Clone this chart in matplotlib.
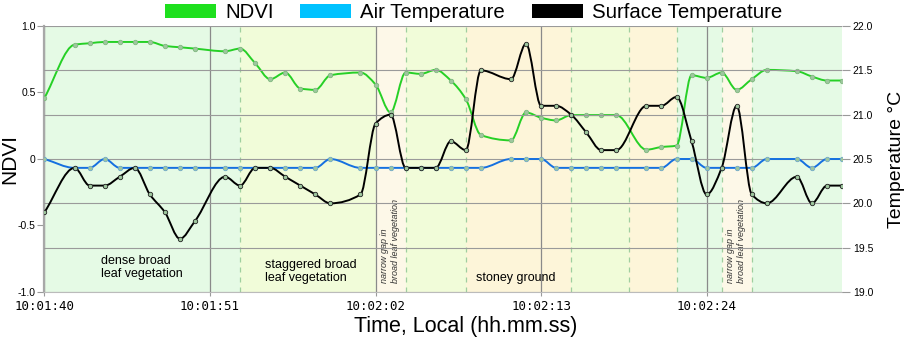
import matplotlib

matplotlib.use("Agg")
import matplotlib.pyplot as plt
import numpy as np
from matplotlib.patches import Patch, PathPatch
from matplotlib.path import Path
from matplotlib.ticker import FuncFormatter, MultipleLocator


# seconds after 10:01:40 at which a sample was logged
seconds = [0, 2, 3, 4, 5, 6, 7, 8, 9, 10,
           12, 13, 14, 15, 16, 17, 18, 19,
           21, 22, 23, 24, 25, 26, 27, 28, 29,
           31, 32, 33, 34, 35, 36, 37, 38,
           40, 41, 42, 43, 44, 45, 46, 47, 48,
           50, 51, 52, 53]

ndvi = [0.46, 0.86, 0.87, 0.88, 0.88, 0.88, 0.88, 0.85, 0.84, 0.83,
        0.81, 0.83, 0.72, 0.60, 0.65, 0.53, 0.52, 0.63,
        0.65, 0.56, 0.35, 0.65, 0.64, 0.67, 0.59, 0.45, 0.18,
        0.14, 0.35, 0.31, 0.29, 0.33, 0.33, 0.33, 0.33,
        0.07, 0.09, 0.10, 0.63, 0.61, 0.65, 0.52, 0.60, 0.67,
        0.66, 0.62, 0.59, 0.59]

air_temp = [20.5, 20.4, 20.4, 20.5, 20.4, 20.4, 20.4, 20.4, 20.4, 20.4,
            20.4, 20.4, 20.4, 20.4, 20.4, 20.4, 20.4, 20.5,
            20.4, 20.4, 20.4, 20.4, 20.4, 20.4, 20.4, 20.4, 20.4,
            20.5, 20.5, 20.5, 20.4, 20.4, 20.4, 20.4, 20.4,
            20.4, 20.4, 20.5, 20.5, 20.4, 20.4, 20.4, 20.4, 20.5,
            20.5, 20.4, 20.5, 20.5]

surface_temp = [19.9, 20.4, 20.2, 20.2, 20.3, 20.4, 20.1, 19.9, 19.6, 19.8,
                20.3, 20.2, 20.4, 20.4, 20.3, 20.2, 20.1, 20.0,
                20.1, 20.9, 21.0, 20.4, 20.4, 20.4, 20.7, 20.6, 21.5,
                21.4, 21.8, 21.1, 21.1, 21.0, 20.8, 20.6, 20.6,
                21.1, 21.1, 21.2, 20.7, 20.1, 20.4, 21.1, 20.1, 20.0,
                20.3, 20.0, 20.2, 20.2]

# ground cover segments along the transect
segment_edges = [0, 13, 22, 24, 28, 35, 38.85, 42, 45, 47, 53]
segment_kinds = ["dense", "staggered", "gap", "staggered", "stoney",
                 "staggered", "stoney", "dense", "gap", "dense"]

START_SECONDS = 10 * 3600 + 1 * 60 + 40

SEGMENT_COLORS = {
    "dense": "#e5fae5",
    "staggered": "#f1fcd9",
    "gap": "#fdf8e8",
    "stoney": "#fdf5d9",
}
NDVI_COLOR = "#26d026"
AIR_COLOR = "#1570e0"
SURFACE_COLOR = "#000000"
MARKER_FILL = "#9ec79e"
GRID_COLOR = "#9a9a9a"

LABEL_FONT = ["Liberation Sans", "DejaVu Sans"]


def monotone_path(x_values, y_values):
    # monotone cubic (Fritsch-Carlson) curve through the samples, as bezier segments
    x = np.asarray(x_values, dtype=float)
    y = np.asarray(y_values, dtype=float)
    h = np.diff(x)
    d = np.diff(y) / h
    m = np.zeros_like(x)
    m[0] = d[0]
    m[-1] = d[-1]
    for k in range(1, len(x) - 1):
        if d[k - 1] * d[k] <= 0:
            m[k] = 0.0
        else:
            w1 = 2 * h[k] + h[k - 1]
            w2 = h[k] + 2 * h[k - 1]
            m[k] = (w1 + w2) / (w1 / d[k - 1] + w2 / d[k])

    vertices = [(x[0], y[0])]
    codes = [Path.MOVETO]
    for k in range(len(x) - 1):
        step = h[k] / 3.0
        vertices += [
            (x[k] + step, y[k] + m[k] * step),
            (x[k + 1] - step, y[k + 1] - m[k + 1] * step),
            (x[k + 1], y[k + 1]),
        ]
        codes += [Path.CURVE4] * 3
    return Path(vertices, codes)


def draw_series(axis, x_values, y_values, color, edge_color):
    axis.add_patch(PathPatch(monotone_path(x_values, y_values), fill=False,
                             edgecolor=color, linewidth=1.4, zorder=3))
    axis.plot(x_values, y_values, linestyle="none", marker="o", markersize=3.2,
              markerfacecolor=MARKER_FILL, markeredgecolor=edge_color,
              markeredgewidth=0.6, zorder=4)


def clock_label(value, _pos):
    total = START_SECONDS + int(round(value))
    return f"{total // 3600:02d}:{total // 60 % 60:02d}:{total % 60:02d}"


fig = plt.figure(figsize=(9.06, 3.42), dpi=100)
fig.subplots_adjust(left=0.0491, right=0.9294, bottom=0.1462, top=0.924)
ax = fig.add_subplot(111)
ax2 = ax.twinx()

# background shading for each ground cover segment
for left, right, kind in zip(segment_edges[:-1], segment_edges[1:], segment_kinds):
    ax.axvspan(left, right, color=SEGMENT_COLORS[kind], linewidth=0, zorder=0)
for edge in segment_edges[1:-1]:
    if edge == 22:
        continue
    ax.axvline(edge, color="#9fcf9f", linewidth=0.9, linestyle=(0, (4, 4)), zorder=1)

ax.set_xlim(0, 53)
ax.set_ylim(-1, 1)
ax2.set_ylim(19, 22)

ax.xaxis.set_major_locator(MultipleLocator(11))
ax.xaxis.set_major_formatter(FuncFormatter(clock_label))
ax.grid(axis="x", color="#8a8a8a", linewidth=0.9, zorder=1)
ax.set_yticks([-1, -0.5, 0, 0.5, 1])
ax.set_yticklabels(["-1.0", "-0.5", "0", "0.5", "1.0"])
ax2.yaxis.set_major_locator(MultipleLocator(0.5))
ax2.yaxis.set_major_formatter(FuncFormatter(lambda v, _p: f"{v:.1f}"))
ax2.grid(axis="y", color=GRID_COLOR, linewidth=0.8)
ax2.set_axisbelow(True)

draw_series(ax, seconds, ndvi, NDVI_COLOR, "#7fb87f")
draw_series(ax2, seconds, air_temp, AIR_COLOR, "#6fa8c8")
draw_series(ax2, seconds, surface_temp, SURFACE_COLOR, "#222222")

for spine in ("top", "right"):
    ax.spines[spine].set_visible(False)
    ax2.spines[spine].set_visible(False)
ax2.spines["left"].set_visible(False)
ax2.spines["bottom"].set_visible(False)
ax.spines["left"].set_color("#a8a8a8")
ax.spines["left"].set_linewidth(1.6)
ax.spines["bottom"].set_color("#bbbbbb")

ax.tick_params(axis="y", direction="out", length=4.7, width=0.8, color=GRID_COLOR,
               pad=1.5, labelsize=7.5)
ax2.tick_params(axis="y", direction="out", length=5.8, width=0.8, color=GRID_COLOR,
                pad=2, labelsize=7.5)
ax.tick_params(axis="x", direction="out", length=3, width=0.8, color=GRID_COLOR,
               pad=3)
for label in ax.get_xticklabels():
    label.set_fontfamily("DejaVu Sans Mono")
    label.set_fontsize(9)
for label in ax.get_yticklabels() + ax2.get_yticklabels():
    label.set_fontfamily(LABEL_FONT)

ax.set_ylabel("NDVI", fontsize=15, family=LABEL_FONT)
ax.yaxis.label.set_verticalalignment("center")
ax.yaxis.set_label_coords(-0.043, 0.5)
ax2.set_ylabel("Temperature °C", fontsize=14, family=LABEL_FONT)
ax2.yaxis.label.set_verticalalignment("center")
ax2.yaxis.set_label_coords(1.0677, 0.5)
ax.set_xlabel("Time, Local (hh.mm.ss)", fontsize=15.5, family=LABEL_FONT)
ax.xaxis.label.set_verticalalignment("center")
ax.xaxis.set_label_coords(0.528, -0.128)

# segment descriptions
ax.text(3.75, -0.72, "dense broad\nleaf vegetation", fontsize=9, family=LABEL_FONT,
        va="top", ha="left", linespacing=1.15, zorder=5)
ax.text(14.65, -0.75, "staggered broad\nleaf vegetation", fontsize=9, family=LABEL_FONT,
        va="top", ha="left", linespacing=1.15, zorder=5)
ax.text(28.67, -0.85, "stoney ground", fontsize=9, family=LABEL_FONT,
        va="top", ha="left", zorder=5)
for centre in (22.95, 45.95):
    ax.text(centre, -0.93, "narrow gap in\nbroad leaf vegetation", fontsize=6.5,
            family=LABEL_FONT, style="italic", color="#333333", rotation=90,
            ha="center", va="bottom", multialignment="left", linespacing=1.3, zorder=5)

fig.legend(
    handles=[
        Patch(facecolor="#1ee01e", edgecolor="none", label="NDVI"),
        Patch(facecolor="#00c2ff", edgecolor="none", label="Air Temperature"),
        Patch(facecolor="#000000", edgecolor="none", label="Surface Temperature"),
    ],
    loc="center",
    bbox_to_anchor=(0.5226, 0.962),
    ncol=3,
    frameon=False,
    prop={"family": LABEL_FONT, "size": 14.7},
    handlelength=2.5,
    handleheight=0.7,
    handletextpad=0.45,
    columnspacing=1.3,
    borderpad=0,
    borderaxespad=0,
)

fig.savefig("out.png", dpi=100)
